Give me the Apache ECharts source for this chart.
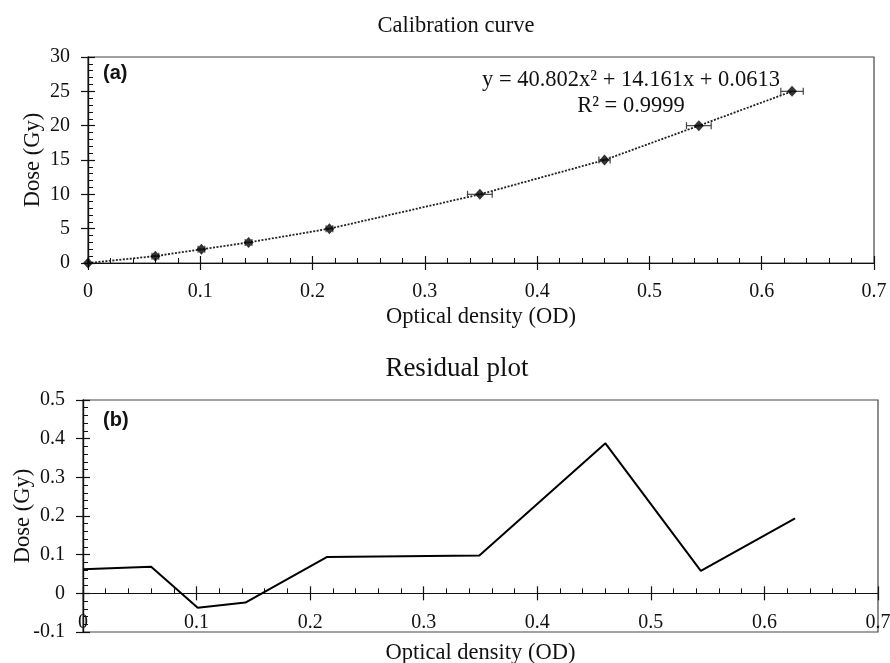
<!DOCTYPE html>
<html>
<head>
<meta charset="utf-8">
<script src="https://cdn.jsdelivr.net/npm/echarts@6/dist/echarts.min.js"></script>
<style>
html,body{margin:0;padding:0;background:#fff;}
#chart{width:890px;height:663px;}
</style>
</head>
<body>
<div id="chart"></div>
<script>
// ---- data ----
var opticalDensity = [0, 0.06, 0.101, 0.143, 0.215, 0.349, 0.46, 0.544, 0.627];
var dose = [0, 1, 2, 3, 5, 10, 15, 20, 25];
var odError = [0, 0.003, 0.003, 0.003, 0.003, 0.011, 0.005, 0.011, 0.010];
var residual = [0.062, 0.069, -0.037, -0.024, 0.094, 0.098, 0.388, 0.058, 0.194];
var xTicks = [0, 0.1, 0.2, 0.3, 0.4, 0.5, 0.6, 0.7];
var doseTicks = [0, 5, 10, 15, 20, 25, 30];
var residualTicks = [-0.1, 0, 0.1, 0.2, 0.3, 0.4, 0.5];
var equationText = 'y = 40.802x² + 14.161x + 0.0613';
var r2Text = 'R² = 0.9999';

var serif = '"Liberation Serif", "Times New Roman", serif';
var sans = '"Liberation Sans", Arial, sans-serif';
var ink = '#111';

var calPoints = opticalDensity.map(function (x, i) { return [x, dose[i]]; });
var errPoints = opticalDensity.map(function (x, i) { return [x, dose[i], odError[i]]; });
var resPoints = opticalDensity.map(function (x, i) { return [x, residual[i]]; });

// bottom panel geometry: zero sits 0.1 units above the bottom edge
var resGridHeight = 232;
var resZeroOffset = -resGridHeight * (0 - residualTicks[0]) / (residualTicks[residualTicks.length - 1] - residualTicks[0]);

function fmt(v) { return String(Math.round(v * 10) / 10); }

function labelAxis(gridIndex, min, max, interval, extra) {
  var a = {
    type: 'value', gridIndex: gridIndex, min: min, max: max, interval: interval,
    axisLine: { show: true, onZero: false, lineStyle: { color: ink, width: 1.2 } },
    axisTick: { show: true, inside: false, length: 7, lineStyle: { color: ink, width: 1.2 } },
    minorTick: { show: false },
    splitLine: { show: false },
    nameMoveOverlap: false,
    axisLabel: { show: true, color: ink, fontFamily: serif, fontSize: 20, margin: 19, formatter: fmt },
    nameTextStyle: { color: ink, fontFamily: serif, fontSize: 22.5 }
  };
  for (var k in extra) a[k] = extra[k];
  return a;
}
function overlayAxis(gridIndex, min, max, interval, extra) {
  var a = {
    type: 'value', gridIndex: gridIndex, min: min, max: max, interval: interval,
    axisLine: { show: true, onZero: false, lineStyle: { color: ink, width: 1.2 } },
    axisTick: { show: true, inside: true, length: 7, lineStyle: { color: ink, width: 1.2 } },
    minorTick: { show: true, splitNumber: 5, length: 5, lineStyle: { color: ink, width: 1 } },
    splitLine: { show: false },
    axisLabel: { show: false }
  };
  for (var k in extra) a[k] = extra[k];
  return a;
}

var option = {
  backgroundColor: '#fff',
  animation: false,
  title: [
    { text: 'Calibration curve', left: 451, top: 10, textAlign: 'center',
      textStyle: { fontFamily: serif, fontSize: 22.5, fontWeight: 'normal', color: ink } },
    { text: 'Residual plot', left: 452, top: 350, textAlign: 'center',
      textStyle: { fontFamily: serif, fontSize: 27, fontWeight: 'normal', color: ink } }
  ],
  grid: [
    { left: 88, right: 16, top: 57, height: 206, show: true, borderColor: '#444', borderWidth: 1.2,
      backgroundColor: 'transparent', containLabel: false, outerBoundsMode: 'none' },
    { left: 83, right: 12, top: 400, height: resGridHeight, show: true, borderColor: '#444', borderWidth: 1.2,
      backgroundColor: 'transparent', containLabel: false, outerBoundsMode: 'none' }
  ],
  xAxis: [
    labelAxis(0, 0, 0.7, 0.1, { position: 'bottom', name: 'Optical density (OD)', nameLocation: 'middle', nameGap: 43 }),
    overlayAxis(0, 0, 0.7, 0.1, { position: 'bottom' }),
    labelAxis(1, 0, 0.7, 0.1, { position: 'bottom', offset: resZeroOffset, name: 'Optical density (OD)', nameLocation: 'middle', nameGap: 48 }),
    overlayAxis(1, 0, 0.7, 0.1, { position: 'bottom', offset: resZeroOffset })
  ],
  yAxis: [
    labelAxis(0, 0, 30, 5, { position: 'left', name: 'Dose (Gy)', nameLocation: 'middle', nameGap: 43,
      axisLabel: { show: true, color: ink, fontFamily: serif, fontSize: 20, margin: 18 } }),
    overlayAxis(0, 0, 30, 5, { position: 'left' }),
    labelAxis(1, -0.1, 0.5, 0.1, { position: 'left', name: 'Dose (Gy)', nameLocation: 'middle', nameGap: 48,
      axisLabel: { show: true, color: ink, fontFamily: serif, fontSize: 20, margin: 18, formatter: fmt } }),
    overlayAxis(1, -0.1, 0.5, 0.1, { position: 'left' })
  ],
  graphic: [
    { type: 'text', x: 103, y: 63, style: { text: '(a)', font: 'bold 20px ' + sans, fill: ink } },
    { type: 'text', x: 103, y: 410, style: { text: '(b)', font: 'bold 20px ' + sans, fill: ink } },
    { type: 'text', x: 631, y: 80, style: { text: equationText, font: '22.5px ' + serif, fill: ink, align: 'center', verticalAlign: 'middle' } },
    { type: 'text', x: 631, y: 106, style: { text: r2Text, font: '22.5px ' + serif, fill: ink, align: 'center', verticalAlign: 'middle' } }
  ],
  series: [
    {
      type: 'line', xAxisIndex: 0, yAxisIndex: 0, data: calPoints,
      smooth: false, showSymbol: false, symbol: 'none',
      lineStyle: { color: '#222', width: 1.8, type: [2, 1.5] }, z: 2
    },
    {
      type: 'custom', xAxisIndex: 0, yAxisIndex: 0, data: errPoints, z: 3,
      renderItem: function (params, api) {
        var x = api.value(0), y = api.value(1), e = api.value(2);
        if (!e) return null;
        var l = api.coord([x - e, y]);
        var r = api.coord([x + e, y]);
        var h = 3.5;
        var st = { stroke: '#444', lineWidth: 1.2 };
        return { type: 'group', children: [
          { type: 'line', shape: { x1: l[0], y1: l[1], x2: r[0], y2: r[1] }, style: st },
          { type: 'line', shape: { x1: l[0], y1: l[1] - h, x2: l[0], y2: l[1] + h }, style: st },
          { type: 'line', shape: { x1: r[0], y1: r[1] - h, x2: r[0], y2: r[1] + h }, style: st }
        ] };
      }
    },
    {
      type: 'scatter', xAxisIndex: 0, yAxisIndex: 0, data: calPoints,
      symbol: 'diamond', symbolSize: [10, 11], itemStyle: { color: '#000' }, z: 4
    },
    {
      type: 'line', xAxisIndex: 2, yAxisIndex: 2, data: resPoints,
      showSymbol: false, symbol: 'none',
      lineStyle: { color: '#000', width: 2 }, z: 3
    }
  ]
};

var chart = echarts.init(document.getElementById('chart'), null, { renderer: 'canvas' });
chart.setOption(option);
</script>
</body>
</html>
